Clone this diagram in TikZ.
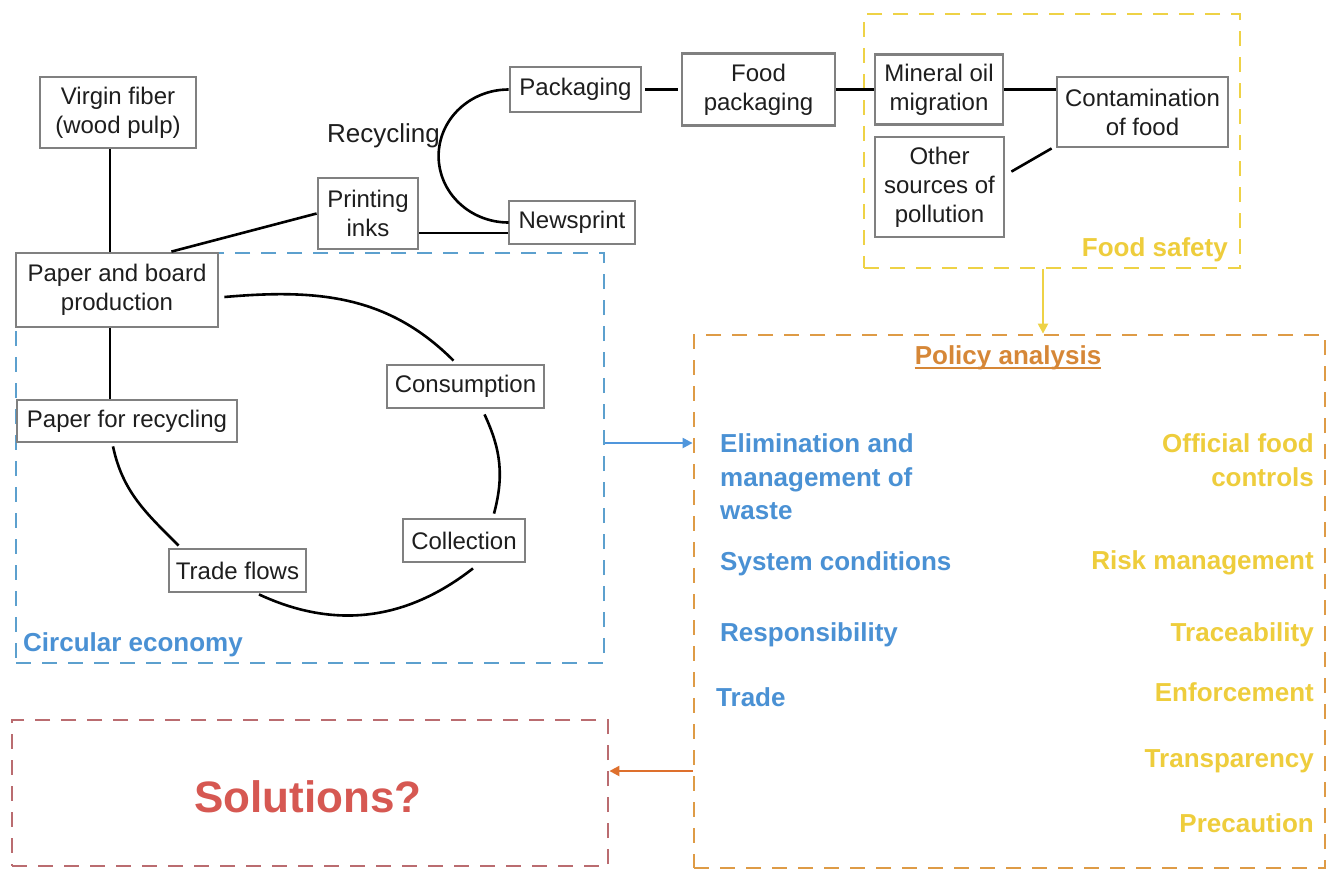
\documentclass[tikz,border=0pt]{standalone}
\usepackage{fontspec}
\setmainfont{Liberation Sans}
\usetikzlibrary{arrows.meta,calc}
\definecolor{boxgray}{RGB}{128,128,128}
\definecolor{boxtext}{RGB}{30,30,30}
\definecolor{ceblue}{RGB}{92,160,206}
\definecolor{cetext}{RGB}{74,145,212}
\definecolor{fsyel}{RGB}{238,210,70}
\definecolor{fstext}{RGB}{238,205,60}
\definecolor{paorange}{RGB}{222,155,70}
\definecolor{patext}{RGB}{214,135,55}
\definecolor{solframe}{RGB}{186,108,112}
\definecolor{soltext}{RGB}{214,88,82}
\definecolor{arrorange}{RGB}{222,112,45}
\definecolor{arrblue}{RGB}{80,150,220}
\begin{document}
\begin{tikzpicture}[x=1pt,y=1pt,
  box/.style={draw=boxgray, line width=2.8pt, fill=white, align=center, inner sep=0pt, text=boxtext, font=\fontsize{24}{29}\selectfont},
  frame/.style={dash pattern=on 15pt off 11pt, line width=2.8pt, inner sep=0pt},
  conn/.style={line width=2.6pt, draw=black},
  lbl/.style={inner sep=0pt, font=\bfseries\fontsize{26}{33.5}\selectfont},
  arr/.style={line width=2.2pt, -{Triangle[length=10pt,width=10pt]}}
]
\useasboundingbox (0,0) rectangle (1330,-871);
\fill[white] (0,0) rectangle (1330,-871);

% frames
\node[frame, draw=ceblue, minimum width=588pt, minimum height=410pt] (circ) at (310,-458) {};
\node[frame, draw=fsyel, minimum width=376pt, minimum height=254pt] (fsafe) at (1052,-141) {};
\node[frame, draw=paorange, minimum width=631pt, minimum height=533pt] (policy) at (1009.5,-601.5) {};
\node[frame, draw=solframe, minimum width=596pt, minimum height=146pt] (sol) at (310,-793) {};

% boxes
\node[box, minimum width=156pt, minimum height=71pt] (vf) at (118,-112.5) {Virgin fiber\\(wood pulp)};
\node[box, minimum width=202pt, minimum height=74pt] (pbp) at (117,-290) {Paper and board\\production};
\node[box, minimum width=220pt, minimum height=42pt] (pfr) at (127,-421) {Paper for recycling};
\node[box, minimum width=100pt, minimum height=71pt] (pinks) at (368,-213.5) {Printing\\inks};
\node[box, minimum width=131pt, minimum height=45pt] (pack) at (575.5,-89.5) {Packaging};
\node[box, minimum width=126pt, minimum height=43pt] (news) at (572,-222.5) {Newsprint};
\node[box, minimum width=153pt, minimum height=72pt] (fpack) at (758.5,-89.5) {Food\\packaging};
\node[box, minimum width=128pt, minimum height=70pt] (mig) at (939,-89.5) {Mineral oil\\migration};
\node[box, minimum width=129pt, minimum height=100pt] (other) at (939.5,-187) {Other\\sources of\\pollution};
\node[box, minimum width=171pt, minimum height=70pt] (contam) at (1142.5,-112) {Contamination\\of food};
\node[box, minimum width=157pt, minimum height=43pt] (cons) at (465.5,-386.5) {Consumption};
\node[box, minimum width=122pt, minimum height=43pt] (coll) at (464,-540.5) {Collection};
\node[box, minimum width=137pt, minimum height=43pt] (trade) at (237.5,-570.5) {Trade flows};

% helper coordinates
\coordinate (xl) at (110,0);
\coordinate (ya) at (1043,0);
\coordinate (ba) at (0,-443);
\coordinate (oa) at (0,-771);
\coordinate (ia) at (0,-233);

% connectors
\draw[conn] (vf.south -| xl) -- (pbp.north -| xl);
\draw[conn] (pbp.south -| xl) -- (pfr.north -| xl);
\draw[conn] ($(pbp.north east)+(-48,0)$) -- (pinks.west);
\draw[conn] (pinks.east |- ia) -- (news.west |- ia);
\draw[conn] (pack.west) arc[start angle=90, end angle=270, x radius=70, y radius=66.5];
\draw[conn, shorten <=3pt, shorten >=3pt] (pack.east) -- (fpack.west);
\draw[conn] (fpack.east) -- (mig.west);
\draw[conn] (mig.east) -- (mig.east -| contam.west);
\draw[conn] ($(other.north east)+(6,-36)$) -- ($(contam.south west)+(-4,0)$);

% cycle
\draw[conn] ($(pbp.east)+(5,-7)$) to[out=5,in=135] ($(cons.north)+(-12,3)$);
\draw[conn] ($(cons.south)+(19,-5)$) to[out=-65,in=75] ($(coll.north)+(30,4)$);
\draw[conn] ($(coll.south)+(9,-5)$) to[out=-142,in=-25] ($(trade.south)+(21.5,-1)$);
\draw[conn] ($(trade.north west)+(11,2)$) to[out=135,in=-78] ($(pfr.south)+(-14,-3)$);

% labels
\node[inner sep=0pt, anchor=base east, text=boxtext, font=\fontsize{26}{30}\selectfont] (recy) at (440,-142) {Recycling};
\node[lbl, text=cetext, anchor=base west] (celab) at (23,-651.5) {Circular economy};
\node[lbl, text=fstext, anchor=base east] (fslab) at (1228,-256.5) {Food safety};
\node[lbl, text=patext, anchor=base] (pa) at (1008,-364.5) {Policy analysis};
\draw[line width=1.6pt, draw=patext] ([yshift=-3.5pt]pa.base west) -- ([yshift=-3.5pt]pa.base east);

\node[lbl, text=cetext, anchor=base west] (elim) at (720,-452.5) {\begin{tabular}[t]{@{}l@{}}Elimination and\\management of\\waste\end{tabular}};
\node[lbl, text=cetext, anchor=base west] (sys) at (720,-570.5) {System conditions};
\node[lbl, text=cetext, anchor=base west] (resp) at (720,-641.5) {Responsibility};
\node[lbl, text=cetext, anchor=base west] (trd) at (716,-706.5) {Trade};

\node[lbl, text=fstext, anchor=base east] (ofc) at (1314,-452.5) {\begin{tabular}[t]{@{}r@{}}Official food\\controls\end{tabular}};
\node[lbl, text=fstext, anchor=base east] (risk) at (1314,-569.5) {Risk management};
\node[lbl, text=fstext, anchor=base east] (trace) at (1314,-641.5) {Traceability};
\node[lbl, text=fstext, anchor=base east] (enf) at (1314,-701.5) {Enforcement};
\node[lbl, text=fstext, anchor=base east] (transp) at (1314,-767.5) {Transparency};
\node[lbl, text=fstext, anchor=base east] (prec) at (1314,-832.5) {Precaution};

\node[inner sep=0pt, font=\bfseries\fontsize{44}{50}\selectfont, text=soltext] (soltxt) at (308,-797) {Solutions?};

% arrows
\draw[arr, draw=fsyel] (fsafe.south -| ya) -- (policy.north -| ya);
\draw[arr, draw=arrblue] (circ.east |- ba) -- (policy.west |- ba);
\draw[arr, draw=arrorange] (policy.west |- oa) -- (sol.east |- oa);
\end{tikzpicture}
\end{document}
